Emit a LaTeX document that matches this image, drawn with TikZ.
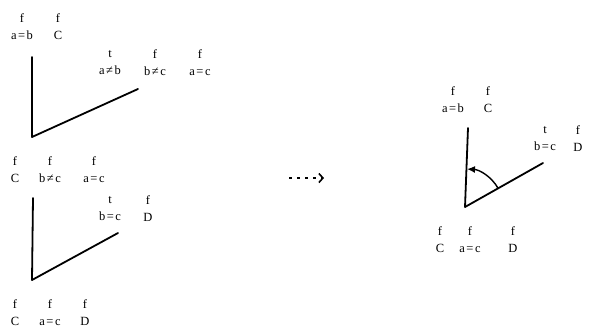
\documentclass[tikz,border=0pt]{standalone}
\usepackage{fontspec}
\setmainfont{Liberation Serif}
\newfontfamily\lblfont[LetterSpace=12]{Liberation Serif}
\usetikzlibrary{arrows.meta}
\begin{document}
\begin{tikzpicture}[x=1pt,y=-1pt,
  lbl/.style={align=center,inner sep=0pt,font=\lblfont\fontsize{12.5}{17}\selectfont},
  edge/.style={line width=1.8pt,line cap=round,line join=round}]
\useasboundingbox (0,0) rectangle (596,333);
% top-left panel
\node[lbl] (p1a) at (22,27) {f\\a=b};
\node[lbl] (p1b) at (58,27) {f\\C};
\coordinate (p1top) at (32,57);
\coordinate (p1c) at (32,137);
\coordinate (p1end) at (138,89);
\draw[edge] (p1top) -- (p1c) -- (p1end);
\node[lbl] (p1d) at (110,63) {t\\a≠b};
\node[lbl] (p1e) at (155,63) {f\\b≠c};
\node[lbl] (p1f) at (200,63) {f\\a=c};
% middle-left panel
\node[lbl] (p2a) at (15,170) {f\\C};
\node[lbl] (p2b) at (50,170) {f\\b≠c};
\node[lbl] (p2c) at (94,170) {f\\a=c};
\coordinate (p2top) at (33,198);
\coordinate (p2c0) at (32,280);
\coordinate (p2end) at (118,233);
\draw[edge] (p2top) -- (p2c0) -- (p2end);
\node[lbl] (p2d) at (110,209) {t\\b=c};
\node[lbl] (p2e) at (148,209) {f\\D};
\node[lbl] (p2f) at (15,313) {f\\C};
\node[lbl] (p2g) at (50,313) {f\\a=c};
\node[lbl] (p2h) at (85,313) {f\\D};
% arrow
\coordinate (ar1) at (289,178);
\coordinate (ar2) at (324,178);
\draw[line width=1.3pt,dash pattern=on 3pt off 5pt,-{Straight Barb[length=4pt,width=9pt,line width=1.6pt]}] (ar1) -- (ar2);
% right panel
\node[lbl] (p3a) at (453,100) {f\\a=b};
\node[lbl] (p3b) at (488,100) {f\\C};
\coordinate (p3top) at (468,128);
\coordinate (p3c) at (465,207);
\coordinate (p3end) at (543,163);
\draw[edge] (p3top) -- (p3c) -- (p3end);
\draw[line width=1.4pt,-{Latex[length=8pt,width=7pt]}] ([shift={(-30:38)}]p3c) arc[start angle=-30,end angle=-87,radius=38];
\node[lbl] (p3d) at (545,139) {t\\b=c};
\node[lbl] (p3e) at (578,139) {f\\D};
\node[lbl] (p3f) at (440,240) {f\\C};
\node[lbl] (p3g) at (470,240) {f\\a=c};
\node[lbl] (p3h) at (513,240) {f\\D};
\end{tikzpicture}
\end{document}
